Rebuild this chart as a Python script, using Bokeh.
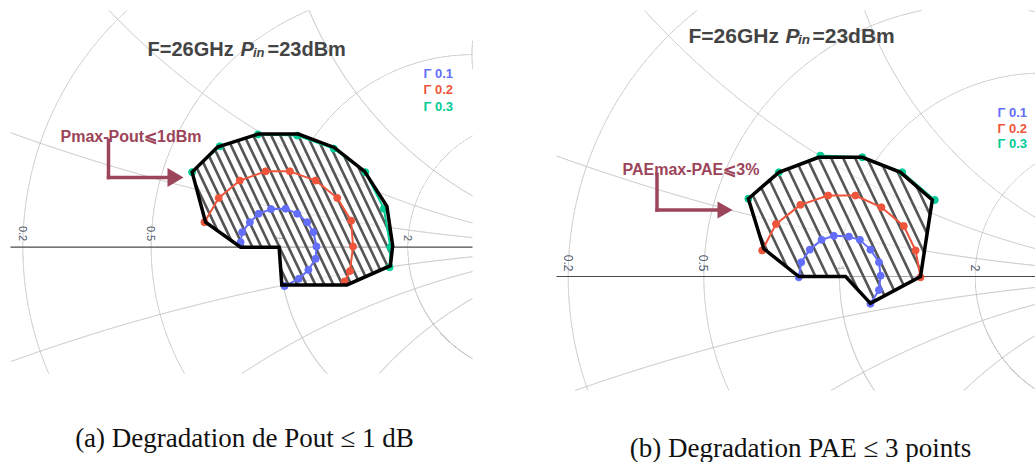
import numpy as np
from bokeh.plotting import figure
from bokeh.layouts import row
from bokeh.models import Label, Arrow, PolyAnnotation
from bokeh.core.properties import value
from bokeh.embed import file_html
from bokeh.resources import INLINE

# ------------------------------------------------------------------ data
GRID_R = [0.2, 0.5, 1, 2, 5]          # constant-resistance circles
GRID_X = [0.2, 0.5, 1, 2, 5]          # constant-reactance arcs (+ and -)
TICK_R = [0.2, 0.5, 1, 2]
TICK_LABELS = ["0.2", "0.5", "1", "2"]

SERIES_NAMES = ["Γ 0.1", "Γ 0.2", "Γ 0.3"]
SERIES_COLORS = ["#636efa", "#ef553b", "#00cc96"]

TITLE_MAIN = "F=26GHz"
TITLE_P = "P"
TITLE_SUB = "in"
TITLE_END = "=23dBm"

# (a) Pout degradation <= 1 dB  (reflection coefficient, real / imaginary)
A_G1_RE = [-0.101, -0.097, -0.077, -0.054, -0.022, 0.016, 0.046, 0.072, 0.088, 0.096, 0.094, 0.075, 0.050, 0.013]
A_G1_IM = [0.013, 0.039, 0.065, 0.087, 0.099, 0.100, 0.087, 0.065, 0.039, 0.002, -0.030, -0.059, -0.082, -0.101]
A_G2_RE = [-0.195, -0.158, -0.103, -0.036, 0.027, 0.094, 0.150, 0.186, 0.191, 0.183, 0.169]
A_G2_IM = [0.065, 0.128, 0.173, 0.197, 0.197, 0.173, 0.128, 0.069, 0.002, -0.062, -0.089]
A_G3_RE = [-0.227, -0.155, -0.056, 0.046, 0.141, 0.223, 0.271, 0.288, 0.286]
A_G3_IM = [0.195, 0.262, 0.293, 0.290, 0.256, 0.195, 0.100, 0.000, -0.052]
A_ZONE_RE = [-0.227, -0.161, -0.055, 0.049, 0.142, 0.221, 0.279, 0.294, 0.288, 0.175, 0.006, -0.001, -0.101, -0.192]
A_ZONE_IM = [0.195, 0.260, 0.294, 0.294, 0.259, 0.197, 0.106, 0.004, -0.048, -0.098, -0.098, 0.000, 0.000, 0.065]
A_ARROW_TEXT = "Pmax-Pout⩽1dBm"
A_CAPTION = "(a) Degradation de Pout ≤ 1 dB"

# (b) PAE degradation <= 3 points
B_G1_RE = [-0.100, -0.094, -0.073, -0.044, -0.014, 0.023, 0.050, 0.076, 0.097, 0.101, 0.097, 0.076]
B_G1_IM = [-0.002, 0.035, 0.066, 0.090, 0.100, 0.098, 0.090, 0.066, 0.035, 0.002, -0.033, -0.067]
B_G2_RE = [-0.190, -0.156, -0.096, -0.028, 0.039, 0.103, 0.158, 0.187, 0.199]
B_G2_IM = [0.064, 0.129, 0.176, 0.199, 0.199, 0.170, 0.124, 0.064, -0.002]
B_G3_RE = [-0.224, -0.149, -0.047, 0.056, 0.154, 0.234]
B_G3_IM = [0.191, 0.256, 0.297, 0.293, 0.256, 0.188]
B_ZONE_RE = [-0.224, -0.149, -0.051, 0.056, 0.150, 0.228, 0.199, 0.076, 0.015, -0.100, -0.186]
B_ZONE_IM = [0.191, 0.256, 0.293, 0.293, 0.256, 0.188, 0.000, -0.066, 0.000, 0.000, 0.068]
B_ARROW_TEXT = "PAEmax-PAE⩽3%"
B_CAPTION = "(b) Degradation PAE ≤ 3 points"

# ------------------------------------------------------------------ style
GRID_COLOR = "#bdbdbd"
AXIS_COLOR = "#4a4a4a"
TICK_COLOR = "#4d5b6b"
TITLE_COLOR = "#444444"
ARROW_COLOR = "#9c4459"
HATCH_COLOR = "#555555"
FIG_H = 462
PAGE_TOP = 0


def runs(gx, gy, mask):
    idx = np.where(mask)[0]
    out_x, out_y = [], []
    if len(idx) < 2:
        return out_x, out_y
    br = np.where(np.diff(idx) > 1)[0]
    starts = np.concatenate([[0], br + 1])
    ends = np.concatenate([br, [len(idx) - 1]])
    for s, e in zip(starts, ends):
        seg = idx[s:e + 1]
        if len(seg) > 1:
            out_x.append(gx[seg].tolist())
            out_y.append(gy[seg].tolist())
    return out_x, out_y


def smith_grid(p, re_lim, im_lim):
    t = np.linspace(0, 2 * np.pi, 30000)
    circles = []
    for r in GRID_R:
        c, rad = r / (1 + r), 1 / (1 + r)
        circles.append((c + rad * np.cos(t), rad * np.sin(t)))
    for xv in GRID_X:
        for s in (1, -1):
            rad = 1 / xv
            circles.append((1 + rad * np.cos(t), s * rad + rad * np.sin(t)))
    circles.append((np.cos(t), np.sin(t)))
    xs, ys = [], []
    for gx, gy in circles:
        m = ((gx >= re_lim[0]) & (gx <= re_lim[1]) & (gy >= im_lim[0]) &
             (gy <= im_lim[1]) & (gx ** 2 + gy ** 2 <= 1.0001))
        a, b = runs(gx, gy, m)
        xs += a
        ys += b
    p.multi_line(xs, ys, line_color=GRID_COLOR, line_width=1)
    p.multi_line([list(re_lim)], [[0, 0]], line_color=AXIS_COLOR, line_width=1.2)


def hatch(re, im, slope, period):
    re = np.asarray(re, float)
    im = np.asarray(im, float)
    vals = im + slope * re
    step = slope * period
    n = len(re)
    xs, ys = [], []
    b = np.floor(vals.min() / step) * step
    while b < vals.max():
        ts = []
        for i in range(n):
            j = (i + 1) % n
            f1 = vals[i] - b
            f2 = vals[j] - b
            if (f1 > 0) != (f2 > 0):
                u = f1 / (f1 - f2)
                ts.append(re[i] + u * (re[j] - re[i]))
        ts.sort()
        for k in range(0, len(ts) - 1, 2):
            xa, xb = ts[k], ts[k + 1]
            xs.append([xa, xb])
            ys.append([-slope * xa + b, -slope * xb + b])
        b += step
    return xs, ys


def build(cfg, series, zone, arrow_text, caption):
    ox, oy, sc = cfg["origin"]
    left, width = cfg["left"], cfg["width"]
    x0 = (left - ox) / sc
    x1 = (left + width - ox) / sc
    y1 = (oy - PAGE_TOP) / sc
    y0 = (oy - (PAGE_TOP + FIG_H)) / sc
    p = figure(width=width, height=FIG_H, x_range=(x0, x1), y_range=(y0, y1),
               output_backend="svg", toolbar_location=None,
               x_axis_location=None, y_axis_location=None, min_border=0,
               outline_line_color=None, background_fill_color="white",
               border_fill_color="white")
    for g in p.grid:
        g.visible = False

    def S(px, py):
        return px - left, PAGE_TOP + FIG_H - py

    cx0, cy0, cx1, cy1 = cfg["clip"]
    re_lim = ((cx0 - ox) / sc, (cx1 - ox) / sc)
    im_lim = ((oy - cy1) / sc, (oy - cy0) / sc)
    smith_grid(p, re_lim, im_lim)

    p.text(x=[(r - 1) / (r + 1) for r in TICK_R], y=[0] * len(TICK_R),
           text=TICK_LABELS, angle=-np.pi / 2, text_align="right",
           text_baseline="middle", y_offset=cfg["tick_off"],
           text_font=value("Liberation Sans"), text_font_size=cfg["tick_fs"],
           text_color=TICK_COLOR)

    zre, zim = zone
    p.patch(zre, zim, fill_color="white", fill_alpha=0.55, line_color=None)
    hx, hy = hatch(zre, zim, 2.1, cfg["period"] / sc)
    p.multi_line(hx, hy, line_color=HATCH_COLOR, line_width=2.6)

    for (sre, sim), col in zip(series, SERIES_COLORS):
        p.line(sre, sim, line_color=col, line_width=2)
        p.scatter(sre, sim, size=7, fill_color=col, line_color=col)

    p.patch(zre, zim, fill_alpha=0, line_color="black", line_width=3.5,
            line_join="miter")

    # title
    tx, tb, fs, sfs = cfg["title"]
    for txt, px, dy, size, style in [(TITLE_MAIN, tx[0], 0, fs, "bold"),
                                     (TITLE_P, tx[1], 0, fs, "bold italic"),
                                     (TITLE_SUB, tx[2], 4, sfs, "bold italic"),
                                     (TITLE_END, tx[3], 0, fs, "bold")]:
        sx, sy = S(px, tb + dy)
        p.add_layout(Label(x=sx, y=sy, x_units="screen", y_units="screen",
                           text=txt, text_font="Liberation Sans",
                           text_font_size=size, text_font_style=style,
                           text_color=TITLE_COLOR, text_baseline="alphabetic"))

    # legend
    lx, ly, lstep = cfg["legend"]
    for k, (name, col) in enumerate(zip(SERIES_NAMES, SERIES_COLORS)):
        sx, sy = S(lx, ly + k * lstep)
        p.add_layout(Label(x=sx, y=sy, x_units="screen", y_units="screen",
                           text=name, text_font="Liberation Sans",
                           text_font_size="13px", text_font_style="bold",
                           text_color=col, text_baseline="middle"))

    # annotation arrow
    ax, ab, vx, vy0, vy1, hx1, tipx, hh = cfg["arrow"]
    sx, sy = S(ax, ab)
    p.add_layout(Label(x=sx, y=sy, x_units="screen", y_units="screen",
                       text=arrow_text, text_font="Liberation Sans",
                       text_font_size="16px", text_font_style="bold",
                       text_color=ARROW_COLOR, text_baseline="alphabetic"))
    a1 = S(vx, vy0)
    a2 = S(vx, vy1 + 1.7)
    p.add_layout(Arrow(end=None, x_start=a1[0], y_start=a1[1], x_end=a2[0],
                       y_end=a2[1], start_units="screen", end_units="screen",
                       line_color=ARROW_COLOR, line_width=3.5))
    b1 = S(vx - 1.7, vy1)
    b2 = S(hx1 + 1, vy1)
    p.add_layout(Arrow(end=None, x_start=b1[0], y_start=b1[1], x_end=b2[0],
                       y_end=b2[1], start_units="screen", end_units="screen",
                       line_color=ARROW_COLOR, line_width=3.5))
    h1 = S(hx1, vy1 - hh)
    h2 = S(tipx, vy1)
    h3 = S(hx1, vy1 + hh)
    p.add_layout(PolyAnnotation(xs=[h1[0], h2[0], h3[0]], ys=[h1[1], h2[1], h3[1]],
                                xs_units="screen", ys_units="screen",
                                fill_color=ARROW_COLOR, fill_alpha=1,
                                line_color=None))

    # caption
    cx, cb = cfg["caption"]
    sx, sy = S(cx, cb)
    p.add_layout(Label(x=sx, y=sy, x_units="screen", y_units="screen",
                       text=caption, text_font="Liberation Serif",
                       text_font_size="27px", text_color="#111111",
                       text_align="center", text_baseline="alphabetic"))
    return p


CFG_A = dict(origin=(279.0, 246.7, 385.0), left=0, width=548,
             clip=(10, 10, 472, 373), tick_off=-6, tick_fs="11px", period=9.0,
             title=((147, 240, 252.5, 267), 48, "20px", "13px"),
             legend=(423, 73, 16.3),
             arrow=(60, 135.5, 108, 138, 177, 167, 183, 9.5),
             caption=(244, 437))
CFG_B = dict(origin=(839.0, 276.0, 407.0), left=548, width=487,
             clip=(556, 10, 1040, 390), tick_off=-5, tick_fs="12px", period=12.0,
             title=((688, 785, 797.5, 812), 35, "21px", "13.5px"),
             legend=(997, 112, 15.5),
             arrow=(622, 168.5, 656.5, 172, 209.5, 717, 732, 8.5),
             caption=(800, 447))

pa = build(CFG_A, [(A_G1_RE, A_G1_IM), (A_G2_RE, A_G2_IM), (A_G3_RE, A_G3_IM)],
           (A_ZONE_RE, A_ZONE_IM), A_ARROW_TEXT, A_CAPTION)
pb = build(CFG_B, [(B_G1_RE, B_G1_IM), (B_G2_RE, B_G2_IM), (B_G3_RE, B_G3_IM)],
           (B_ZONE_RE, B_ZONE_IM), B_ARROW_TEXT, B_CAPTION)

layout = row(pa, pb)
open("out.html", "w").write(file_html(layout, INLINE))
